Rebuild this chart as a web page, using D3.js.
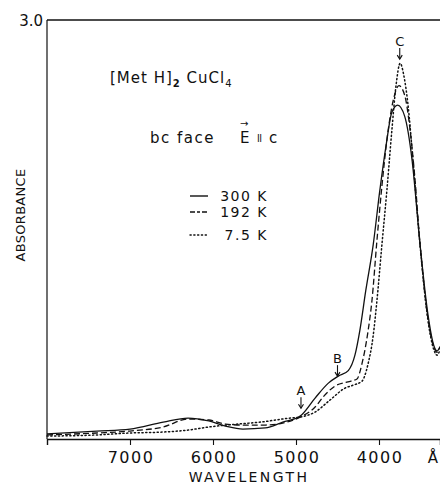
<!DOCTYPE html>
<html>
  <head>
    <meta charset="utf-8">
    <title>Absorbance</title>
    <style>
      body { margin: 0; background: #fff; }
      text { font-family: "DejaVu Sans", sans-serif; fill: #111; }
    </style>
  </head>
  <body>
    <div id="chart"></div>
    <script src="https://d3js.org/d3.v7.min.js"></script>
    <script>

      // 300 K (solid)
      var wave300 = [8000,7400,7000,6600,6300,6050,5850,5640,5370,5160,4950,4770,4610,4490,4370,4290,4230,4160,4070,3990,3915,3845,3775,3690,3600,3505,3410,3340,3300,3265]
      var abs300  = [0.036,0.057,0.071,0.121,0.150,0.129,0.093,0.071,0.079,0.121,0.164,0.293,0.400,0.450,0.490,0.600,0.780,1.060,1.390,1.780,2.100,2.340,2.390,2.310,1.990,1.390,0.890,0.670,0.630,0.660]

      // 192 K (dashed)
      var wave192 = [8000,7400,7000,6600,6300,6050,5850,5640,5370,5160,4950,4770,4675,4530,4390,4265,4205,4135,4085,4025,3965,3905,3830,3760,3690,3625,3565,3505,3410,3340,3300,3265]
      var abs192  = [0.029,0.043,0.057,0.086,0.143,0.136,0.107,0.100,0.100,0.114,0.157,0.229,0.300,0.379,0.407,0.430,0.540,0.760,0.990,1.420,1.810,2.140,2.420,2.530,2.460,2.210,1.850,1.390,0.860,0.660,0.620,0.660]

      // 7.5 K (dotted)
      var wave75 = [8000,7400,7000,6600,6300,6050,5700,5430,5070,4950,4770,4590,4410,4310,4205,4135,4070,4025,3965,3905,3845,3795,3745,3700,3650,3590,3505,3410,3340,3300,3265]
      var abs75  = [0.021,0.029,0.043,0.050,0.064,0.086,0.107,0.121,0.150,0.157,0.193,0.279,0.364,0.386,0.414,0.530,0.740,0.990,1.390,1.780,2.210,2.530,2.690,2.600,2.390,1.990,1.390,0.850,0.640,0.600,0.640]

      var xticks   = [7000, 6000, 5000, 4000]
      var legendLabels = ["300 K", "192 K", "7.5 K"]
      var dashes   = ["none", "6,3", "1.2,2.6"]

      // peak markers
      var markLabels = ["A", "B", "C"]
      var markWave   = [4940, 4500, 3750]
      var markAbs    = [0.22, 0.45, 2.72]

      var series = [
        { wave: wave300, abs: abs300 },
        { wave: wave192, abs: abs192 },
        { wave: wave75,  abs: abs75 }
      ]

      var W = 440, H = 486

      var svg = d3.select("#chart").append("svg")
                  .attr("width", W)
                  .attr("height", H)

      var x = d3.scaleLinear().domain([8000, 3265]).range([47, 440])
      var y = d3.scaleLinear().domain([0, 3]).range([439, 20])

      // frame: left, top, bottom
      svg.append("line").attr("x1", x(8000)).attr("x2", x(8000)).attr("y1", y(3)).attr("y2", y(0))
         .attr("stroke", "#111").attr("stroke-width", 1.2)
      svg.append("line").attr("x1", x(8000)).attr("x2", W).attr("y1", y(3)).attr("y2", y(3))
         .attr("stroke", "#111").attr("stroke-width", 1.4)

      var xAxis = d3.axisBottom(x).tickValues(xticks).tickSize(6).tickFormat("")
      var gX = svg.append("g")
                  .attr("transform", "translate(0," + y(0) + ")")
                  .call(xAxis)
      gX.select(".domain").attr("stroke", "#111").attr("stroke-width", 1.4)
      gX.selectAll(".tick line").attr("stroke", "#111").attr("stroke-width", 1.1)

      svg.selectAll(".xlab")
         .data(xticks)
         .enter().append("text")
         .attr("x", function(d){ return x(d) + 1 })
         .attr("y", 463)
         .attr("text-anchor", "middle")
         .style("font-size", "16px")
         .style("letter-spacing", "1.5px")
         .text(function(d){ return d })

      svg.append("text").attr("x", 433).attr("y", 463).attr("text-anchor", "middle")
         .style("font-size", "15px").text("Å")

      svg.append("text").attr("x", 249).attr("y", 482).attr("text-anchor", "middle")
         .style("font-size", "14px").style("letter-spacing", "2.4px")
         .text("WAVELENGTH")

      svg.append("text").attr("transform", "translate(25,215)rotate(-90)")
         .attr("text-anchor", "middle")
         .style("font-size", "13px").style("letter-spacing", "0.3px")
         .text("ABSORBANCE")

      svg.append("text").attr("x", 43).attr("y", 26).attr("text-anchor", "end")
         .style("font-size", "15px").text("3.0")

      // curves
      var line = d3.line()
                   .x(function(d){ return x(d[0]) })
                   .y(function(d){ return y(d[1]) })
                   .curve(d3.curveMonotoneX)

      series.forEach(function(s, i){
        var pts = s.wave.map(function(w, j){ return [w, s.abs[j]] })
        svg.append("path")
           .datum(pts)
           .attr("d", line)
           .attr("fill", "none")
           .attr("stroke", "#111")
           .attr("stroke-width", i == 2 ? 1.5 : 1.3)
           .attr("stroke-linecap", i == 2 ? "round" : "butt")
           .attr("stroke-dasharray", dashes[i])
      })

      // labels
      var t1 = svg.append("text").attr("x", 110).attr("y", 83)
                  .style("font-size", "15px").style("letter-spacing", "1px")
      t1.append("tspan").text("[Met H]")
      t1.append("tspan").attr("dy", 4).style("font-size", "10px").style("font-weight", "bold").text("2")
      t1.append("tspan").attr("dy", -4).text(" CuCl")
      t1.append("tspan").attr("dy", 4).style("font-size", "10px").text("4")

      var face = svg.append("g").style("font-size", "15px")
      face.append("text").attr("x", 150).attr("y", 143).style("letter-spacing", "1.5px").text("bc  face")
      face.append("text").attr("x", 240).attr("y", 143).text("E")
      face.append("text").attr("x", 240).attr("y", 127).style("font-size", "10px").text("→")
      face.append("text").attr("x", 257).attr("y", 142).style("font-size", "10px").style("letter-spacing", "-0.5px").text("ll")
      face.append("text").attr("x", 269).attr("y", 143).text("c")

      // legend
      var legY = [196, 212, 235]
      var leg = svg.append("g")
      legendLabels.forEach(function(lbl, i){
        leg.append("line")
           .attr("x1", 190).attr("x2", 208)
           .attr("y1", legY[i]).attr("y2", legY[i])
           .attr("stroke", "#111").attr("stroke-width", 1.4)
           .attr("stroke-linecap", i == 2 ? "round" : "butt")
           .attr("stroke-dasharray", i == 1 ? "5,2,3,2" : dashes[i])
        leg.append("text")
           .attr("x", 268).attr("y", legY[i] + 5)
           .attr("text-anchor", "end")
           .style("font-size", "14px").style("letter-spacing", "1.5px")
           .text(lbl)
      })

      // peak markers
      markLabels.forEach(function(m, i){
        var px = x(markWave[i]), py = y(markAbs[i])
        svg.append("text").attr("x", px).attr("y", py - 13)
           .attr("text-anchor", "middle")
           .style("font-size", "13px").text(m)
        svg.append("line").attr("x1", px).attr("x2", px)
           .attr("y1", py - 11).attr("y2", py)
           .attr("stroke", "#111").attr("stroke-width", 1.1)
        svg.append("path")
           .attr("d", "M" + (px - 2.5) + "," + (py - 4) + "L" + px + "," + py + "L" + (px + 2.5) + "," + (py - 4))
           .attr("fill", "none").attr("stroke", "#111").attr("stroke-width", 1.1)
      })

    </script>
  </body>
</html>
